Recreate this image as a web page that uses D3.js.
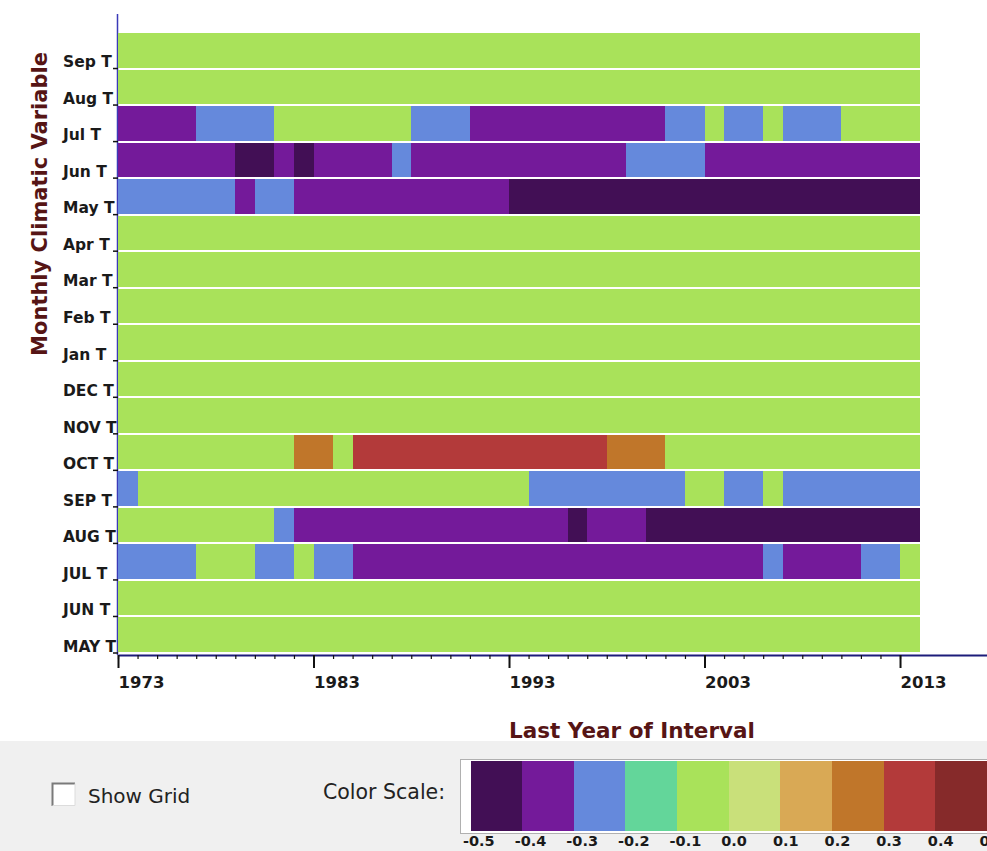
<!DOCTYPE html>
<html>
<head>
<meta charset="utf-8">
<script src="https://cdn.jsdelivr.net/npm/d3@7/dist/d3.min.js"></script>
<style>
    html, body { margin: 0; padding: 0; background: #ffffff; }
    svg { display: block; font-family: "DejaVu Sans", Verdana, sans-serif; }
</style>
</head>
<body>
<div id="chart"></div>
<script>
// Rows of the grid, top to bottom (mixed case = current year, upper case = previous year)
var RowLabels = ["Sep T", "Aug T", "Jul T", "Jun T", "May T", "Apr T", "Mar T", "Feb T", "Jan T",
    "DEC T", "NOV T", "OCT T", "SEP T", "AUG T", "JUL T", "JUN T", "MAY T"];
// Years on the axis
var AllYears = d3.range(1973, 2014);
var MajorYears = [1973, 1983, 1993, 2003, 2013];
// Segments per row: [first year, year after last, correlation]
var Flat = [[1973, 2014, -0.05]];
var CurJul = [[1973, 1977, -0.35], [1977, 1981, -0.25], [1981, 1988, -0.05], [1988, 1991, -0.25],
    [1991, 2001, -0.35], [2001, 2003, -0.25], [2003, 2004, -0.05], [2004, 2006, -0.25],
    [2006, 2007, -0.05], [2007, 2010, -0.25], [2010, 2014, -0.05]];
var CurJun = [[1973, 1979, -0.35], [1979, 1981, -0.45], [1981, 1982, -0.35], [1982, 1983, -0.45],
    [1983, 1987, -0.35], [1987, 1988, -0.25], [1988, 1999, -0.35], [1999, 2003, -0.25],
    [2003, 2014, -0.35]];
var CurMay = [[1973, 1979, -0.25], [1979, 1980, -0.35], [1980, 1982, -0.25], [1982, 1993, -0.35],
    [1993, 2014, -0.45]];
var PrevOct = [[1973, 1982, -0.05], [1982, 1984, 0.25], [1984, 1985, -0.05], [1985, 1998, 0.35],
    [1998, 2001, 0.25], [2001, 2014, -0.05]];
var PrevSep = [[1973, 1974, -0.25], [1974, 1994, -0.05], [1994, 2002, -0.25], [2002, 2004, -0.05],
    [2004, 2006, -0.25], [2006, 2007, -0.05], [2007, 2014, -0.25]];
var PrevAug = [[1973, 1981, -0.05], [1981, 1982, -0.25], [1982, 1996, -0.35], [1996, 1997, -0.45],
    [1997, 2000, -0.35], [2000, 2014, -0.45]];
var PrevJul = [[1973, 1977, -0.25], [1977, 1980, -0.05], [1980, 1982, -0.25], [1982, 1983, -0.05],
    [1983, 1985, -0.25], [1985, 2006, -0.35], [2006, 2007, -0.25], [2007, 2011, -0.35],
    [2011, 2013, -0.25], [2013, 2014, -0.05]];
var RowSegments = [Flat, Flat, CurJul, CurJun, CurMay, Flat, Flat, Flat, Flat,
    Flat, Flat, PrevOct, PrevSep, PrevAug, PrevJul, Flat, Flat];
// Color scale
var LegendTicks = [-0.5, -0.4, -0.3, -0.2, -0.1, 0.0, 0.1, 0.2, 0.3, 0.4, 0.5];
var LegendColors = ["#420f55", "#741a9a", "#6589dc", "#63d69a", "#a9e25a",
    "#c9e07a", "#d9a955", "#c0762a", "#b33a3a", "#862a2a"];

var Width = 987, Height = 851;
var Svg = d3.select("#chart").append("svg").attr("width", Width).attr("height", Height);

// Scales
var X = d3.scaleLinear().domain([1973, 2017.5]).range([118, 988]);
var Y = d3.scaleBand().domain(RowLabels).range([33, 652]).paddingInner(0.055).paddingOuter(0);
var Color = d3.scaleThreshold().domain(LegendTicks.slice(1, -1)).range(LegendColors);

// Left axis line (peeks out above the grid)
Svg.append("line")
    .attr("x1", 117.5).attr("x2", 117.5).attr("y1", 14).attr("y2", 655)
    .attr("stroke", "#3a3ab8").attr("stroke-width", 1.5);

// Cells
var Cells = RowLabels.flatMap((Label, I) => RowSegments[I].map((S) => ({ Row: Label, From: S[0], To: S[1], Value: S[2] })));
Svg.append("g").selectAll("rect").data(Cells).join("rect")
    .attr("x", (D) => X(D.From))
    .attr("width", (D) => X(D.To) - X(D.From))
    .attr("y", (D) => Y(D.Row))
    .attr("height", Y.bandwidth())
    .attr("fill", (D) => Color(D.Value))
    .attr("shape-rendering", "crispEdges");

// Left axis labels, with ticks on the row boundaries
var Gap = Y.step() - Y.bandwidth();
var LeftAxis = Svg.append("g")
    .attr("transform", `translate(118,${Y.bandwidth() / 2 + Gap / 2})`)
    .call(d3.axisLeft(Y).tickSize(5).tickSizeOuter(0));
LeftAxis.select(".domain").remove();
LeftAxis.selectAll(".tick line").attr("stroke", "#111").attr("stroke-width", 1.5);
LeftAxis.selectAll(".tick text")
    .attr("x", -55).attr("dy", "-0.08em")
    .attr("text-anchor", "start")
    .attr("fill", "#1a1a1a")
    .attr("font-family", "'DejaVu Sans', sans-serif")
    .attr("font-weight", "bold").attr("font-size", 15.5);

// Bottom axis: minor ticks every year, major every decade
var MinorAxis = Svg.append("g").attr("transform", "translate(0,655)")
    .call(d3.axisBottom(X).tickValues(AllYears).tickSize(4).tickSizeOuter(0).tickFormat(""));
MinorAxis.select(".domain").attr("stroke", "#1c1c7a").attr("stroke-width", 2);
MinorAxis.selectAll(".tick line").attr("stroke", "#111").attr("stroke-width", 1.2);
var MajorAxis = Svg.append("g").attr("transform", "translate(0,655)")
    .call(d3.axisBottom(X).tickValues(MajorYears).tickSize(13).tickSizeOuter(0).tickFormat(d3.format("d")));
MajorAxis.select(".domain").remove();
MajorAxis.selectAll(".tick line").attr("stroke", "#111").attr("stroke-width", 2);
MajorAxis.selectAll(".tick text")
    .attr("y", 33).attr("dy", 0)
    .attr("text-anchor", "start")
    .attr("fill", "#1a1a1a")
    .attr("font-family", "'DejaVu Sans', sans-serif")
    .attr("font-weight", "bold").attr("font-size", 16.5);

// Axis titles
Svg.append("text")
    .attr("transform", "translate(47,204) rotate(-90)")
    .attr("text-anchor", "middle")
    .attr("fill", "#561515").attr("font-weight", "bold").attr("font-size", 21)
    .text("Monthly Climatic Variable");
Svg.append("text")
    .attr("x", 632).attr("y", 738)
    .attr("text-anchor", "middle")
    .attr("fill", "#561515").attr("font-weight", "bold").attr("font-size", 21.5)
    .text("Last Year of Interval");

// Control panel
var Panel = Svg.append("g");
Panel.append("rect").attr("x", 0).attr("y", 741).attr("width", Width).attr("height", Height - 741).attr("fill", "#f0f0f0");
// Checkbox
Panel.append("rect").attr("x", 52).attr("y", 783).attr("width", 23).attr("height", 23).attr("fill", "#ffffff");
Panel.append("path").attr("d", "M52.5,806V783.5H75").attr("fill", "none").attr("stroke", "#7a7a7a").attr("stroke-width", 2);
Panel.append("path").attr("d", "M75,783.5V805.5H52.5").attr("fill", "none").attr("stroke", "#dcdcdc").attr("stroke-width", 1);
Panel.append("text").attr("x", 88).attr("y", 803).attr("fill", "#222").attr("font-size", 20).text("Show Grid");
Panel.append("text").attr("x", 323).attr("y", 799).attr("fill", "#222").attr("font-size", 20.5).text("Color Scale:");

// Legend
var LegendX = d3.scaleLinear().domain([-0.5, 0.5]).range([470.5, 987]);
var Fmt = d3.formatLocale({ decimal: ".", thousands: ",", grouping: [3], currency: ["", ""], minus: "-" }).format(".1f");
Panel.append("rect").attr("x", 460.5).attr("y", 759.5).attr("width", 540).attr("height", 74)
    .attr("fill", "#ffffff").attr("stroke", "#b0b0b0");
Panel.append("g").selectAll("rect").data(LegendColors).join("rect")
    .attr("x", (C, I) => LegendX(LegendTicks[I]))
    .attr("width", (C, I) => LegendX(LegendTicks[I + 1]) - LegendX(LegendTicks[I]))
    .attr("y", 761).attr("height", 70)
    .attr("fill", (C) => C)
    .attr("shape-rendering", "crispEdges");
Panel.append("g").selectAll("text").data(LegendTicks).join("text")
    .attr("x", (T) => LegendX(T) - 7.5).attr("y", 846)
    .attr("fill", "#1a1a1a").attr("font-weight", "bold").attr("font-size", 14.5)
    .text((T) => Fmt(T));
</script>
</body>
</html>
